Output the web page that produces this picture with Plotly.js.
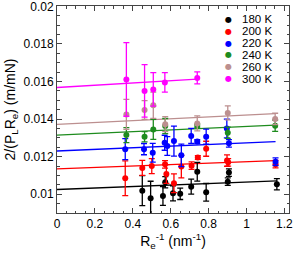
<!DOCTYPE html>
<html><head><meta charset="utf-8">
<script src="https://cdn.plot.ly/plotly-3.0.1.min.js"></script>
<style>html,body{margin:0;padding:0;background:#fff}#plot{width:296px;height:259px}</style>
</head><body><div id="plot"></div>
<script>
const names = ["180 K","200 K","220 K","240 K","260 K","300 K"];
const colors = ["#000000","#ff0000","#0000ff","#1e8c1e","#bc8f8f","#ff00ff"];

const x180 = [0.450,0.494,0.559,0.571,0.612,0.650,0.708,0.740,0.787,0.901,0.907,1.160];
const y180 = [0.01019,0.00979,0.00991,0.01064,0.01005,0.01002,0.01040,0.01120,0.01010,0.01067,0.01115,0.01053];
const e180 = [0.0008,0.0009,0.0005,0.0003,0.0004,0.0003,0.0004,0.0005,0.00047,0.0002,0.0002,0.0003];

const x200 = [0.360,0.450,0.500,0.570,0.577,0.617,0.656,0.710,0.743,0.787,0.897,0.903,1.153];
const y200 = [0.01085,0.01140,0.01150,0.01159,0.01108,0.01058,0.01147,0.01152,0.01195,0.01242,0.01179,0.01170,0.01160];
const e200 = [0.00093,0.0004,0.0004,0.0002,0.0005,0.0005,0.0006,0.0002,0.0001,0.0004,0.0003,0.0002,0.0002];

const x220 = [0.360,0.459,0.505,0.568,0.582,0.617,0.656,0.708,0.740,0.787,0.896,0.907,1.153];
const y220 = [0.01240,0.01240,0.01221,0.01274,0.01257,0.01283,0.01207,0.01310,0.01280,0.01306,0.01350,0.01271,0.01173];
const e220 = [0.00056,0.0003,0.0005,0.0004,0.0005,0.0008,0.0006,0.0004,0.0001,0.0004,0.0005,0.0002,0.0002];

const x240 = [0.366,0.462,0.508,0.571,0.740,0.901,1.151];
const y240 = [0.01315,0.01306,0.01345,0.01363,0.01363,0.01327,0.01365];
const e240 = [0.0004,0.00027,0.00053,0.0004,0.0001,0.0003,0.0003];

const x260 = [0.366,0.462,0.508,0.571,0.740,0.901,1.151];
const y260 = [0.01425,0.01448,0.01474,0.01373,0.01377,0.01433,0.01401];
const e260 = [0.0008,0.0005,0.0007,0.0004,0.0004,0.00037,0.0003];

const x300 = [0.366,0.462,0.508,0.569,0.740];
const y300 = [0.01611,0.01550,0.01558,0.01595,0.01619];
const e300 = [0.00196,0.0014,0.00089,0.00052,0.00032];

const fitIntercepts = [0.01025,0.01135,0.01230,0.01315,0.01372,0.01568];
const fitSlopes = [0.00040,0.00038,0.00043,0.00046,0.00050,0.00060];

const xTickVals = [0,0.2,0.4,0.6,0.8,1,1.2];
const xTickText = ["0","0.2","0.4","0.6","0.8","1","1.2"];
const yTickVals = [0.01,0.012,0.014,0.016,0.018,0.02];
const yTickText = ["0.01","0.012","0.014","0.016","0.018","0.02"];

const series = [[x180,y180,e180],[x200,y200,e200],[x220,y220,e220],[x240,y240,e240],[x260,y260,e260],[x300,y300,e300]];
const traces = [];
series.forEach((s,i)=>{
  const xmax = Math.max(...s[0]);
  const lx = [0, xmax];
  traces.push({x:lx, y:lx.map(v=>fitIntercepts[i]+fitSlopes[i]*v), mode:'lines',
    line:{color:colors[i], width:1.3}, showlegend:false, hoverinfo:'skip'});
});
series.forEach((s,i)=>{
  traces.push({x:s[0], y:s[1], mode:'markers', name:names[i],
    marker:{color:colors[i], size:6},
    error_y:{type:'data', array:s[2], visible:true, color:colors[i], thickness:1.3, width:3},
    showlegend:false});
});

const font = {family:'"Liberation Sans", Arial, sans-serif', color:'#000'};
const annotations = [];
names.forEach((n,i)=>{
  const yp = 1 - (13.3 + i*11.9)/207;
  annotations.push({xref:'paper', yref:'paper', x:0.738, y:yp, text:'●', showarrow:false,
    font:{family:'DejaVu Sans', size:8, color:colors[i]}, xanchor:'center', yanchor:'middle'});
  annotations.push({xref:'paper', yref:'paper', x:0.790, y:yp, text:n, showarrow:false,
    font:Object.assign({size:11.5}, font), xanchor:'left', yanchor:'middle'});
});

const layout = {
  width:296, height:259,
  margin:{l:57, r:7, t:6, b:46},
  paper_bgcolor:'#fff', plot_bgcolor:'#fff',
  showlegend:false,
  font:Object.assign({size:12}, font),
  xaxis:{range:[0,1.224], tickvals:xTickVals, ticktext:xTickText, ticks:'inside', ticklen:5, tickcolor:'#444',
    showgrid:false, zeroline:false, showline:true, linecolor:'#444', linewidth:1, mirror:'ticks',
    ticklabeloverflow:'allow',
    minor:{dtick:0.05, tick0:0, ticks:'inside', ticklen:2.5, tickcolor:'#444', showgrid:false},
    tickfont:Object.assign({size:12}, font),
    title:{text:'R<sub>e</sub><sup>-1</sup> (nm<sup>-1</sup>)', font:Object.assign({size:14}, font), standoff:4}},
  yaxis:{range:[0.009,0.02002], tickvals:yTickVals, ticktext:yTickText, ticks:'inside', ticklen:5, tickcolor:'#444',
    showgrid:false, zeroline:false, showline:true, linecolor:'#444', linewidth:1, mirror:'ticks',
    ticklabeloverflow:'allow',
    minor:{dtick:0.0005, tick0:0, ticks:'inside', ticklen:2.5, tickcolor:'#444', showgrid:false},
    tickfont:Object.assign({size:12}, font),
    title:{text:'2/(P<sub>L</sub>R<sub>e</sub>) (m/mN)', font:Object.assign({size:14}, font), standoff:4}},
  annotations:annotations
};
Plotly.newPlot('plot', traces, layout, {staticPlot:true, displayModeBar:false});
</script></body></html>
